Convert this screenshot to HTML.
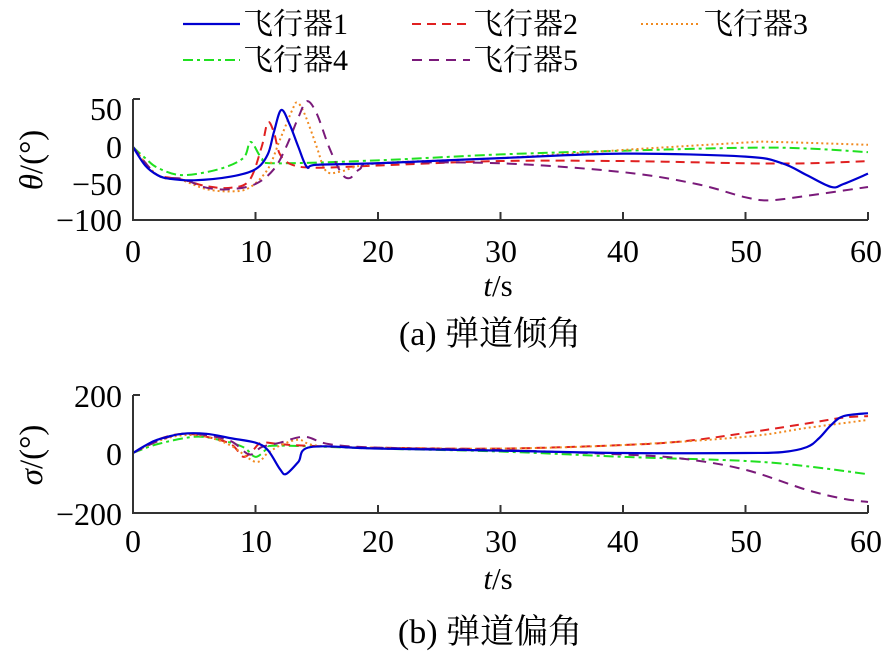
<!DOCTYPE html>
<html><head><meta charset="utf-8"><style>
html,body{margin:0;padding:0;background:#fff;}
svg{display:block;}
text{font-family:"Liberation Serif","Noto Serif CJK SC",serif;fill:#000;}
</style></head><body>
<svg id="s" width="887" height="658" viewBox="0 0 887 658">
<g font-size="30">
<line x1="183" y1="24" x2="240" y2="24" stroke="#0000d0" stroke-width="2.2"/>
<text x="243" y="34">飞行器1</text>
<line x1="412" y1="24" x2="470" y2="24" stroke="#e02020" stroke-width="2" stroke-dasharray="9,6"/>
<text x="473" y="34">飞行器2</text>
<line x1="641" y1="24" x2="700" y2="24" stroke="#f08a20" stroke-width="2" stroke-dasharray="2,3"/>
<text x="703" y="34">飞行器3</text>
<line x1="183" y1="60" x2="240" y2="60" stroke="#20e020" stroke-width="2" stroke-dasharray="10,4,3,4"/>
<text x="243" y="70">飞行器4</text>
<line x1="412" y1="60" x2="470" y2="60" stroke="#7a1a7a" stroke-width="2" stroke-dasharray="10,7"/>
<text x="473" y="70">飞行器5</text>
</g>
<g id="plots"></g>
<g font-size="32" text-anchor="middle">
<text x="133" y="262">0</text><text x="256" y="262">10</text><text x="378" y="262">20</text><text x="501" y="262">30</text><text x="623" y="262">40</text><text x="746" y="262">50</text><text x="866" y="262">60</text>
<text x="133" y="552">0</text><text x="256" y="552">10</text><text x="378" y="552">20</text><text x="501" y="552">30</text><text x="623" y="552">40</text><text x="746" y="552">50</text><text x="866" y="552">60</text>
</g>
<g font-size="32" text-anchor="end">
<text x="122" y="120">50</text><text x="122" y="158">0</text><text x="122" y="195">−50</text><text x="122" y="231">−100</text>
<text x="122" y="407">200</text><text x="122" y="465">0</text><text x="122" y="525">−200</text>
</g>
<text x="498" y="296" font-size="31" text-anchor="middle"><tspan font-style="italic">t</tspan>/s</text>
<text x="498" y="589" font-size="31" text-anchor="middle"><tspan font-style="italic">t</tspan>/s</text>
<text x="490" y="345" font-size="34" text-anchor="middle">(a) 弹道倾角</text>
<text x="490" y="643" font-size="34" text-anchor="middle">(b) 弹道偏角</text>
<text transform="translate(42,160) rotate(-90)" font-size="33" text-anchor="middle"><tspan font-style="italic">θ</tspan>/(°)</text>
<text transform="translate(42,455) rotate(-90)" font-size="33" text-anchor="middle"><tspan font-style="italic">σ</tspan>/(°)</text>
</svg>
<script>
(function(){
var NS="http://www.w3.org/2000/svg",G=document.getElementById("plots");
function X(t){return 133+t*12.25;}
function path(pts,fy,col,dash,w){
 var p=pts.map(function(a){return [X(a[0]),fy(a[1])];});
 var d="M"+p[0][0]+","+p[0][1];
 for(var i=0;i<p.length-1;i++){
  var p0=p[i-1]||p[i],p1=p[i],p2=p[i+1],p3=p[i+2]||p2;
  var c1=[p1[0]+(p2[0]-p0[0])/6,p1[1]+(p2[1]-p0[1])/6],c2=[p2[0]-(p3[0]-p1[0])/6,p2[1]-(p3[1]-p1[1])/6];
  d+="C"+c1[0]+","+c1[1]+" "+c2[0]+","+c2[1]+" "+p2[0]+","+p2[1];
 }
 var e=document.createElementNS(NS,"path");
 e.setAttribute("d",d);e.setAttribute("fill","none");e.setAttribute("stroke",col);
 e.setAttribute("stroke-width",w||2);if(dash)e.setAttribute("stroke-dasharray",dash);
 G.appendChild(e);
}
function line(x1,y1,x2,y2){var e=document.createElementNS(NS,"line");e.setAttribute("x1",x1);e.setAttribute("y1",y1);e.setAttribute("x2",x2);e.setAttribute("y2",y2);e.setAttribute("stroke","#333");e.setAttribute("stroke-width",2);G.appendChild(e);}
var C={b:["#0000d0",null,2.2],r:["#e02020","9,6"],o:["#f08a20","2,3"],g:["#20e020","10,4,3,4"],p:["#7a1a7a","10,7"]};
function fy1(v){return 147-v*0.74;}
function fy2(v){return 453-v*0.295;}
var topD={
g:[[0,0],[1,-15],[2,-28],[4,-38],[7,-30],[9,-15],[9.6,7],[10.5,-15],[11.5,-22],[20,-18],[30,-10],[40,-5],[50,-1],[55,-2],[60,-7]],
r:[[0,0],[1,-22],[2,-38],[4,-44],[6,-53],[8,-55],[9.5,-45],[10.5,0],[11,33],[11.5,20],[12,-10],[13,-24],[15,-28],[20,-25],[30,-19],[40,-19],[50,-22],[55,-22],[60,-19]],
o:[[0,0],[2,-38],[4,-45],[6,-57],[8,-60],[9.5,-55],[11,-30],[12,10],[13,50],[13.4,60],[14,45],[15,0],[15.5,-25],[16,-35],[17,-33],[20,-22],[30,-15],[40,-4],[50,6],[52,7],[60,3]],
p:[[0,0],[2,-38],[4,-43],[6,-55],[8,-57],[10,-50],[11.5,-30],[12.5,0],[13.5,40],[14.2,62],[15,45],[16,0],[17,-35],[17.7,-42],[18.5,-30],[20,-22],[30,-22],[40,-34],[46,-50],[50,-68],[52,-72],[55,-66],[60,-54]],
b:[[0,0],[1,-25],[2,-38],[3,-43],[5,-45],[8,-40],[10,-30],[11,-10],[11.5,20],[12.1,50],[12.8,30],[13.5,0],[14.2,-27],[15,-24],[20,-22],[30,-15],[40,-9],[50,-13],[53,-22],[55,-38],[57,-54],[58,-50],[60,-36]]};
var botD={
g:[[0,0],[2,30],[5,55],[7,45],[9,20],[10,-13],[11,15],[12,25],[20,15],[30,5],[40,-13],[50,-27],[55,-45],[60,-72]],
r:[[0,0],[2,45],[4,65],[6,55],[8,30],[9,-13],[9.8,10],[10.5,35],[12,30],[14,25],[20,18],[30,15],[40,27],[45,40],[50,68],[55,100],[58,120],[60,125]],
o:[[0,0],[2,40],[4,60],[6,55],[8,25],[10,-30],[11,0],[12,25],[13.5,45],[15,25],[20,18],[30,15],[40,27],[50,55],[55,85],[60,112]],
p:[[0,0],[2,40],[4,65],[6,60],[8,40],[9.5,-5],[10.5,20],[12,35],[14,55],[16,30],[20,18],[30,10],[40,-5],[45,-20],[50,-57],[55,-125],[58,-155],[60,-166]],
b:[[0,0],[1,25],[2,45],[4,65],[6,65],[8,50],[10,35],[11,10],[12,-55],[12.5,-71],[13.5,-30],[14.5,20],[20,15],[30,8],[40,0],[50,0],[53,3],[55,20],[56,50],[57,95],[58,125],[60,135]]};
["g","r","o","p","b"].forEach(function(k){path(topD[k],fy1,C[k][0],C[k][1],C[k][2]);path(botD[k],fy2,C[k][0],C[k][1],C[k][2]);});
line(133,99,133,221);line(132,220,868,220);line(133,99,140,99);
line(133,395,133,514);line(132,513,868,513);line(133,395,140,395);
for(var i=1;i<=6;i++){var x=X(i*10);line(x,220,x,212);line(x,513,x,505);}
})();
</script>
</body></html>
